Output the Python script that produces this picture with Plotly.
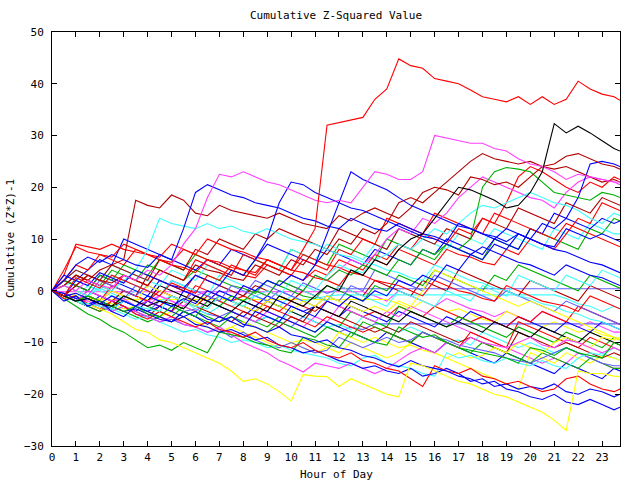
import plotly.graph_objects as go

HOURS = [0, 0.5, 1, 1.5, 2, 2.5, 3, 3.5, 4, 4.5, 5, 5.5,
         6, 6.5, 7, 7.5, 8, 8.5, 9, 9.5, 10, 10.5, 11, 11.5,
         12, 12.5, 13, 13.5, 14, 14.5, 15, 15.5, 16, 16.5, 17, 17.5,
         18, 18.5, 19, 19.5, 20, 20.5, 21, 21.5, 22, 22.5, 23, 23.5,
         23.75]

red_big = [0, -1, 2.5, 1.5, 0.5, 3, 2, 1, 0, -1, 1.5, 0.5,
           -0.5, 3, 2, 5, 4, 3, 6, 5, 4, 8, 12, 32,
           32.5, 33, 33.5, 37, 39, 44.8, 43.5, 43, 41, 40.5, 40, 38.8,
           37.5, 37, 36.5, 37.5, 36, 37.5, 36, 37, 40.5, 39, 38, 37.5,
           36.8]
black_spike = [0, -1, -2, -1.5, -2.5, -3, -1, -2, -3, -2, -2.5, -3.5,
               -1, -2, -3, -4, -2, -3, -4, -1, -2, -3, -1, 1,
               0, 4, 3, 6, 5, 8, 10, 11, 14, 17, 20, 19.5,
               18.5, 17.5, 16, 16.5, 19, 23, 32.3, 30.5, 31.8, 30.5, 29, 27.5,
               27]
magenta_high = [0, 1, 0, 2, 1, 0.5, 3, 2, 4, 3, 5, 9,
                12, 18, 22.5, 22, 23, 22, 21, 20.5, 19.5, 18.5, 17.5, 17,
                17.5, 17, 20, 23, 22.5, 21.5, 21.5, 23, 30, 29.5, 29, 28.5,
                28.5, 27.5, 27, 25.5, 24.5, 24, 23, 21.5, 22.5, 22, 21.5, 21,
                21]
blue_a = [0, 2, 5, 6.5, 5.5, 7, 6, 5, 4.5, 7, 6, 12,
          19, 20.5, 19.5, 18.5, 18, 17, 16.5, 16, 15, 14, 13.5, 12.5,
          12, 14, 13, 12, 11.5, 13, 12, 11, 10.5, 9.5, 13, 12,
          11, 10.5, 9.5, 11, 10, 9, 8.5, 12, 11, 10, 11, 10,
          9.5]
blue_b = [0, -1, -0.5, -1.5, -2.5, -1, -2, -3, -1, -2, -3, -1.5,
          -2.5, 0, -1, -2, 1, 0, 2, 1, 3, 2, 5, 11,
          17, 23, 21.5, 20.5, 19.5, 18, 16.5, 15.5, 14.5, 13.5, 12.5, 12,
          11, 10, 12, 11, 10, 9, 8, 7.5, 6.5, 5.5, 5, 4,
          3.5]
blue_c = [0, 3, 2, 1, 3.5, 2.5, 1.5, 4, 3, 2, 1, 0.5,
          3, 2, 1, 4, 3, 6, 10, 17, 21, 20.5, 19, 18,
          17, 16, 15.5, 14.5, 13.5, 12.5, 11.5, 10.5, 10, 9, 8, 7,
          8.5, 7.5, 6.5, 5.5, 5, 4, 3, 5, 4, 3, 2.5, 1.5,
          1]
darkred_a = [0, 1, 3, 2, 4, 5, 6, 17.5, 16.5, 16, 18.5, 17.5,
             15, 14.5, 16.5, 15.5, 15, 14.5, 14, 15, 14, 13, 12.5, 12,
             14.5, 13.5, 15, 16, 15, 14, 16, 19, 20, 19.5, 18.5, 22,
             21.5, 20.5, 21, 20, 22, 24, 23.5, 24, 23, 22, 21, 21.5,
             21]
darkred_b = [0, -1, 1, 3, 2, 1.5, 3, 2, 1, 4, 3, 2,
             5, 4, 3.5, 2.5, 2, 5, 4, 3, 6, 5, 8, 7,
             10, 9, 12, 11, 13, 17, 18, 17, 19, 21, 23, 25,
             26.5, 25.5, 25, 24.5, 25, 24, 24.5, 26, 26.5, 25.5, 24.5, 24,
             23.5]
green_high = [0, -1, -2, -1, -2, -3, -4, -3, -4.5, -5, -3, -4,
              -5, -2, -3, -1, -2, 0, -1, 2, 1, 0, 3, 2,
              4, 3, 5, 4, 3, 6, 5, 8, 7, 9, 8, 10,
              20, 23, 23.8, 23.5, 23, 21, 19, 18.5, 18, 17.5, 19, 18.5,
              18]
blue_end = [0, -2, -1, -3, -2, -4, -5, -3, -4, -5, -6, -4,
            -5, -6.5, -5, -6, -7, -4, -5, -6, -3, -4, -5, -2,
            -3, -1, -2, 0, -1, 2, 1, 3, 2, 5, 4, 7,
            6, 9, 8, 11, 10, 13, 12, 14, 18, 24.5, 25, 24.5,
            24]
cyan_a = [0, 1, 0, -1, 1, 0, 2, 4, 8, 14, 13, 12.5,
          12, 13, 12, 12.5, 11.5, 11, 12, 11, 10, 9.5, 9, 8,
          7, 6.5, 5.5, 5, 4, 3.5, 2.5, 2, 5, 4, 3, 2,
          1.5, 0.5, 0, -1, -1.5, -2.5, -3, -4, -4.5, -5.5, -6, -7,
          -7.5]
cyan_b = [0, -1, -2, -2.5, -3, -3.5, -2, -3, -3.5, -4, -1, -2,
          -3, -3.5, -1, -2, -3, -1, 0, -1, 2, 1, 0, 3,
          5, 4, 3.5, 6, 7, 9, 8, 10, 12, 11, 13, 15,
          16.5, 16, 17, 18, 19, 18, 17, 16.5, 15.5, 14, 13, 15,
          14.5]
magenta_b = [0, -1, -2, 0, -1, -2, -1.5, -3, -2, -1, -2, -3,
             -1, 0, -1, -2, 1, 0, -1, 2, 1, 0, 3, 2,
             4, 6, 5, 7, 10, 12, 11, 14, 13, 15, 18, 20,
             22, 21, 20, 19, 18, 17.5, 16, 19, 21, 22, 21.5, 21,
             20.5]
red_b = [0, 3, 9, 8.5, 8, 9, 8, 7.5, 7, 6, 5.5, 8,
         7, 6, 5.5, 4.5, 4, 3.5, 6, 5, 4, 3.5, 2.5, 2,
         1, 4, 3, 2, 1.5, 1, 0, -1, 2, 1, 0, -0.5,
         -1.5, -2, 1, 0, -1, -2, -2.5, -3, -4, -1, -2, -3,
         -3.5]
red_c = [0, 2, 5, 4, 7, 6, 5, 8, 7, 6, 5, 4.5,
         3.5, 6, 5, 4, 3, 2.5, 5, 4, 3, 2, 4, 3,
         6, 5, 4, 7, 6, 9, 8, 11, 10, 9, 12, 11,
         14, 13, 17, 22, 24, 23, 21.5, 20, 19, 21, 20, 22,
         21.5]
red_d = [0, 4, 8.5, 7.5, 7, 6.5, 9, 8, 7, 6.5, 9, 8,
         7, 10, 9, 8, 7.5, 6.5, 6, 5, 4, 7, 6, 5,
         4.5, 3.5, 3, 6, 5, 8, 7, 6, 5, 8, 7, 6.5,
         5.5, 5, 8, 7, 10, 9, 8, 11, 14, 13, 17, 16,
         15.5]
yellow_low = [0, -1, -2, -2.5, -3.5, -4.5, -6, -7.5, -8, -9.5, -10, -11,
              -12, -13, -14, -15.5, -17.5, -17, -18, -19.5, -21.3, -16.2, -16.5, -16.6,
              -18.5, -17, -18, -19, -20, -20.5, -14, -14.5, -15.5, -16.5, -17.5, -18,
              -19, -20, -20.5, -21.5, -22.5, -23.5, -25, -27, -15.5, -16, -16, -16.5,
              -16.6]
blue_low1 = [0, -1, -2, -1.5, -2.5, -3.5, -2, -3, -4, -3, -4, -5,
             -4, -5.5, -6, -5, -6.5, -7, -8, -7, -8.5, -9, -10, -9.5,
             -11, -11.5, -12.5, -13, -14, -14.7, -13.5, -14.5, -15, -15.5, -16.5, -17,
             -18, -17.5, -19, -19.5, -20.5, -21, -20, -21.5, -22, -21, -22, -23,
             -22.5]
red_low = [0, -1.5, -1, -2.5, -3.5, -2, -3, -4.5, -5.5, -4, -5, -6,
           -7, -6, -7.5, -8, -9, -8, -9.5, -10.5, -11, -10, -11.5, -12.5,
           -13, -12, -13.5, -14, -15, -15.5, -17, -18.5, -14.5, -15.5, -16, -15,
           -16.5, -17, -18, -17.5, -18.5, -19.5, -19, -17, -16.5, -18, -19, -19.5,
           -19]
blue_low2 = [0, -0.5, -1.5, -2.5, -2, -3, -4, -3.5, -4.5, -5.5, -6, -5,
             -6.5, -7, -8, -7.5, -8.5, -9.5, -9, -10.5, -11, -12, -11.5, -12.5,
             -13.5, -14, -15, -14.5, -15.5, -16, -15, -16.5, -16, -15, -16, -17.5,
             -17, -18.5, -18, -19, -18.5, -19, -18, -19.5, -20, -19, -19.5, -20.5,
             -20]
green_low = [0, -1.5, -3, -4.5, -5.5, -7, -8, -9.5, -11, -10.5, -11.5, -10,
             -11, -12, -8, -8.5, -9, -10, -10.5, -11.5, -12, -9, -9.5, -10.5,
             -11, -8, -9, -10, -10.5, -7, -8, -9, -8.5, -10, -11, -11.5,
             -12, -12.5, -13, -14, -11, -11.5, -12.5, -11, -12, -12.5, -13, -10,
             -10.5]
magenta_low = [0, -0.5, -1.5, -2, -3, -4, -3, -4, -5, -6, -5, -6.5,
               -7, -8, -7, -8.5, -10, -11, -12, -13.5, -14.5, -15.7, -14, -14.5,
               -15, -14, -15, -16, -15, -13.5, -12, -11, -12, -10, -11, -9,
               -10, -10.5, -11, -10, -9, -10.5, -11, -9.5, -10, -11, -12, -11,
               -11.5]
cyan_low = [0, -1, -2, -3, -2.5, -3.5, -4.5, -5.5, -5, -6, -7, -8,
            -7.5, -8.5, -9, -10, -9.5, -10, -11, -10.5, -11.5, -12, -12.5, -13,
            -14, -14.5, -13, -12.5, -14, -14.5, -15, -16, -16.5, -12, -13, -12.5,
            -13.5, -14, -13, -14, -14.5, -13.5, -14.5, -15, -13, -12, -12.5, -11,
            -11.5]
slate_low = [0, -1, -2, -1.5, -3, -4, -3, -4.5, -5, -6, -5.5, -6.5,
             -7, -8, -7.5, -9, -8, -9.5, -10.5, -11, -10, -11, -12, -11.5,
             -9, -10, -11, -10, -9, -10, -9.5, -8, -9, -9.5, -10.5, -11,
             -11.5, -12, -13, -13.5, -14, -13, -12, -11, -12, -13, -14, -14.5,
             -14.5]
yellow_mid = [0, -0.5, -1, -2, -1.5, -2.5, -3.5, -3, -4, -5, -6, -5,
              -6, -7, -8, -7, -6, -7, -8, -9, -10, -9.5, -10, -11,
              -8, -9, -10, -9, -10, -11, -10.5, -11.5, -12, -13, -12, -13,
              -12.5, -11, -12, -10, -11, -12, -10, -9, -10, -11, -9, -9.5,
              -9]
flat_magenta = [0, -0.2, -0.2, -0.2, -0.2, -0.2, -0.2, -0.2, -0.2, -0.2, -0.2, -0.2,
                -0.2, -0.2, -0.2, -0.2, -0.2, -0.2, -0.2, -0.2, -0.2, -0.2, -0.2, -0.2,
                -0.2, -0.2, -0.2, -1, -2, 0, -1, -2, -3, -1.5, -2.5, -3.5,
                -4, -5, -4, -5, -6, -4, -5, -6, -7, -6, -7, -8,
                -8]
flat_yellow = [0, -1, -0.5, -1.5, -1.7, -1.7, -1.7, -1.7, -1.7, -1.7, -1.7, -1.7,
               -1.7, -1.7, -1.7, -1.7, -1.7, -1.7, -1.7, -1.7, -1.7, -1.7, -1.7, -1.7,
               -1.7, -1.7, -1.7, -1.7, -1.7, -2.5, -3.5, -2, -3, -4, -3.5, -4.5,
               -5.5, -6, -4, -5, -6, -7, -6, -7, -8, -7.5, -8.5, -9,
               -9.5]
flat_cyan = [0, 1, 0, -1, 0.5, -0.5, -1.5, 0, -1, -2, -1, -2,
             -3, -1, -2, -3, -2, -1, -2, -3, -1, -2, -1.5, -1,
             -0.8, -0.8, -0.8, -0.8, -0.8, -0.8, -0.8, -0.8, -0.8, -0.8, -0.8, -0.8,
             -0.8, -0.8, -0.8, -0.8, -0.8, -0.8, -0.8, -1.5, -2.5, -3, -4, -3,
             -3.5]
flat_slate1 = [0, -1, -2, 0, -1, -2, -1.5, 1, 0, -1, 2, 1,
               0, -1, 1, 0, -1, 2, 1, 0, -1, 1.5, 0.5, -0.5,
               0.4, 0.4, 0.4, 0.4, 0.4, 0.4, 0.4, 0.4, 0.4, 0.4, 0.4, 0.4,
               0.4, 0.4, 0.4, 0.4, 0.4, 0.4, 0.4, 0.4, 0.4, 0.4, 0.4, 0.4,
               0.4]
flat_slate2 = [0, -0.5, -1.5, -1, -2, -3, -2, -3, -4, -2, -3, -4,
               -3.5, -4.5, -5, -4, -5, -6, -5, -6, -7, -5, -6, -7,
               -8, -7, -7.5, -6.4, -6.4, -6.4, -6.4, -6.4, -6.4, -6.4, -6.4, -6.4,
               -6.4, -6.4, -6.4, -6.4, -6.4, -6.4, -6.4, -6.4, -6.4, -6.4, -6.4, -6.4,
               -6.4]
m1_green = [0, 1, 3, 2, 1, 4, 3, 2, 5, 4, 3, 2,
            4, 3, 2, 1, 0.5, -0.5, 2, 1, 0, -1, -1.5, 1,
            0, -1, -2, 1, 0, 3, 2, 1, 4, 3, 2, 1,
            0, 3, 2, 5, 4, 3, 2, 1, 0, 3, 2, 1,
            0.5]
m2_cyan = [0, -1, -1.5, 1, 0, -1, -2, -3, -1, -2, -3, -2,
           -3.5, -4.5, -3, -4, -5, -6, -5, -6, -4, -5, -6, -7,
           -6.5, -7.5, -5, -6, -7, -8, -7, -8, -9, -10, -9.5, -10.5,
           -8, -9, -10, -11, -10, -11, -12, -11, -12, -13, -12, -13,
           -13.5]
m3_blue = [0, 2, 1, 0, 3, 2, 1, 0, -1, 2, 1, 0,
           -1, -2, 0, -1, -2, -3, -1, -2, -3, -4, -3, -4,
           -5, -3, -4, -5, -6, -4, -5, -6, -7, -5, -6, -4,
           -5, -6, -7, -5, -6, -7, -8, -6, -7, -8, -6, -7,
           -7.5]
m4_red = [0, -1, -2, -1, -2, 1, 0, -1, -2, -3, -1, -2,
          1, 0, -1, -2, -1, -2, -3, -4, -2, -3, -4, -2,
          -3, -4, -5, -4, -5, -3, -4, -5, -3, -4, -5, -6,
          -5, -6, -7, -5, -6, -4, -5, -6, -3, -4, -5, -6,
          -6.5]
m5_darkred = [0, -1, 1, 0, -1, -2, 0, -1, 3, 2, 1, 0,
              3, 2, 1, 0, -1, 1, 0, -1, -2, 0, -1, -2,
              1, 0, -1, 2, 1, 0, -1, 2, 1, 0, 4, 3,
              2, 1, 0, -1, 2, 1, 0, -1, -2, 1, 0, -1,
              -1.5]
m6_green = [0, -1, -2, -3, -2.5, -3.5, -1, -2, -3, -4, -5, -3,
            -4, -5, -6, -4, -5, -6, -7, -5, -6, -7, -8, -6,
            -7, -4, -5, -6, -7, -3, -4, -5, -6, -7, -5, -6,
            -7, -8, -9, -7, -8, -9, -10, -8, -9, -10, -11, -9,
            -9.5]
m7_magenta = [0, 1, 0, -1, -2, 0, -1, -2, -3, -1, -2, -3,
              -4, -2, -3, -4, -5, -6, -4, -5, -6, -7, -5, -6,
              -3, -4, -5, -6, -4, -5, -3, -4, -5, -6, -7, -8,
              -9, -10, -11, -12, -13, -14, -13, -14, -12, -13, -14, -15,
              -15]
m8_yellow = [0, -1, -2, -1, -2, -3, -4, -3, -4, -5, -4, -5,
             -6, -7, -8, -7, -8, -9, -10, -11, -10, -11, -12, -11,
             -12, -10, -11, -12, -13, -12, -10, -11, -12, -13, -14, -15,
             -16, -17, -18, -19, -12, -13, -14, -12, -13, -14, -12.5, -13,
             -13.5]
m9_cyan = [0, 1, 2, 1, 0, 3, 2, 1, 0, -1, 2, 1,
           0, -1, 3, 2, 1, 0, -1, 2, 1, 0, -1, -2,
           1, 0, -1, -2, -3, 0, -1, -2, -3, 0, -1, -2,
           1, 0, -1, 3, 2, 1, 0, 3, 2, 1, 4, 3,
           2.5]
m10_blue = [0, -1, -2, -3, -1, -2, -3, -4, -2, -3, -4, 0,
            -1, -2, -3, -4, -5, -3, -4, -5, -6, -7, -8, -6,
            -7, -8, -9, -10, -8, -9, -10, -11, -12, -10, -11, -12,
            -13, -14, -12, -13, -14, -15, -16, -14, -15, -16, -17, -15,
            -15.5]
m11_red = [0, 2, 1, 3, 2, 1, 0, -1, -2, 0, -1, -2,
           -3, -1, -2, -3, -4, -5, -3, -4, -5, -6, -7, -5,
           -6, -7, -8, -7, -8, -9, -10, -8, -9, -10, -11, -8,
           -9, -10, -11, -6, -7, -8, -9, -10, -11, -9, -10, -11,
           -11.5]
m12_darkred = [0, -1, -2, -3, -4, -2, -3, -4, -5, -3, -4, -2,
               -3, -4, -5, -6, -4, -5, -6, -7, -5, -6, -3, -4,
               -5, -6, -7, -8, -7, -8, -6, -7, -8, -9, -10, -9,
               -10, -11, -12, -8, -9, -10, -11, -10, -11, -12, -13, -12,
               -12.5]
m13_black = [0, -1, -2, -1, -2, -3, -2, -3, -2, 1, 0, -1,
             -2, -3, -1, -2, -3, -4, -2, -3, -4, -5, -3, -4,
             -5, -2, -3, -4, -5, -6, -4, -5, -6, -7, -6, -7,
             -8, -6, -7, -8, -9, -7, -8, -9, -10, -8, -9, -10,
             -10.5]
m14_green = [0, 2, 1, 0, 3, 2, 5, 4, 3, 6, 5, 4,
             7, 6, 5, 4, 3, 6, 5, 4, 8, 7, 6, 5,
             9, 8, 7, 6, 10, 9, 8, 7, 6, 9, 8, 7,
             6, 10, 9, 8, 12, 11, 10, 9, 8, 12, 11, 14,
             13.5]
m15_slate = [0, 1, 0, -1, 2, 1, 0, -1, 1, 0, -1, -2,
             0, -1, -2, 1, 0, -1, -2, 0, -1, -2, -3, -1,
             -2, 1, 0, 4, 3, 2, 1, 0, 3, 2, 1, 0,
             -1, -2, 0, -1, -2, -3, -4, -2, -3, -4, -5, -6,
             -6.5]
m16_yellow = [0, 1, 0, -1, -2, 0, -1, -2, 1, 0, -1, -2,
              -3, 0, -1, -2, -3, -4, -2, -3, -4, -2, -3, -1,
              -2, -3, -4, -3, -4, -2, -3, 0, 4, 3, 2, 1,
              0, -1, -2, -3, -2, -3, -4, -5, -6, -7, -8, -9,
              -9.5]
m17_cyan = [0, 2, 4, 3, 2, 5, 4, 3, 2, 1, 4, 3,
            2, 5, 4, 3, 7, 6, 5, 4, 8, 7, 6, 9,
            8, 7, 6, 9, 8, 12, 11, 10, 9, 8, 11, 10,
            9, 12, 11, 10, 9, 8, 12, 11, 10, 13, 12, 11,
            11]
m18_blue = [0, -1, 2, 4, 6, 5, 10, 9, 8, 7, 6, 5,
            4, 6, 5, 8, 7, 6, 9, 8, 7, 6, 5, 8,
            7, 6, 5, 8, 7, 6, 5, 8, 7, 10, 9, 8,
            7, 10, 9, 8, 12, 11, 15, 14, 13, 12, 14, 13,
            13.5]
m19_green = [0, -1, -2, -3, -4, -3, -4, -5, -6, -5, -6, -4,
             -5, -6, -7, -5, -6, -7, -8, -6, -7, -8, -9, -7,
             -8, -9, -6, -7, -8, -9, -10, -8, -9, -10, -11, -12,
             -10, -11, -12, -13, -14, -12, -13, -14, -15, -13, -14, -15,
             -15]
darkred_c = [0, 2, 4, 3, 2, 5, 4, 3, 2, 6, 5, 4,
             8, 7, 10, 9, 8, 11, 10, 12, 11, 10, 9, 8,
             12, 11, 10, 9, 8, 12, 11, 10, 9, 12, 11, 10,
             14, 13, 12, 16, 15, 14, 13, 17, 16, 15, 18, 17,
             16.5]
red_e = [0, 1, 3, 2, 1, 0, 3, 2, 1, 4, 3, 2,
         6, 5, 4, 3, 7, 6, 5, 4, 3, 6, 5, 4,
         8, 7, 10, 9, 14, 13, 12, 11, 15, 14, 13, 12,
         11, 15, 14, 13, 12, 11, 10, 13, 12, 11, 10, 9,
         8.5]

RED = "#ff0000"
DRED = "#b00000"
GREEN = "#00b000"
BLUE = "#0000ff"
CYAN = "#40ffff"
MAG = "#ff40ff"
YEL = "#ffff00"
SLATE = "#6060ff"
BLACK = "#000000"

SERIES = [
    (flat_magenta, MAG), (flat_yellow, YEL), (flat_cyan, CYAN),
    (flat_slate1, SLATE), (flat_slate2, SLATE),
    (m1_green, GREEN), (m2_cyan, CYAN), (m3_blue, BLUE), (m4_red, RED),
    (m5_darkred, DRED), (m6_green, GREEN), (m7_magenta, MAG), (m8_yellow, YEL),
    (m9_cyan, CYAN), (m10_blue, BLUE), (m11_red, RED), (m12_darkred, DRED),
    (m13_black, BLACK), (m14_green, GREEN), (m15_slate, SLATE),
    (m16_yellow, YEL), (m17_cyan, CYAN), (m18_blue, BLUE), (m19_green, GREEN),
    (yellow_mid, YEL), (slate_low, SLATE), (cyan_low, CYAN),
    (magenta_low, MAG), (green_low, GREEN), (blue_low2, BLUE),
    (red_low, RED), (blue_low1, BLUE), (yellow_low, YEL),
    (darkred_c, DRED), (red_e, RED), (red_d, RED), (red_c, RED), (red_b, RED),
    (magenta_b, MAG), (cyan_b, CYAN), (cyan_a, CYAN), (blue_end, BLUE),
    (green_high, GREEN), (darkred_b, DRED), (darkred_a, DRED),
    (blue_c, BLUE), (blue_b, BLUE), (blue_a, BLUE), (magenta_high, MAG),
    (black_spike, BLACK), (red_big, RED),
]

for vals, _c in SERIES:
    assert len(vals) == len(HOURS), len(vals)

FONT = "DejaVu Sans Mono"
FSIZE = 11

fig = go.Figure()
for vals, col in SERIES:
    fig.add_trace(go.Scatter(x=HOURS, y=vals, mode="lines",
                             line=dict(color=col, width=1.1),
                             hoverinfo="skip", showlegend=False))

axis_common = dict(showline=True, linecolor="black", linewidth=1,
                   mirror="ticks", ticks="inside", ticklen=5,
                   tickcolor="black", showgrid=False, zeroline=False,
                   tickfont=dict(family=FONT, size=FSIZE, color="black"))

fig.update_layout(
    width=640, height=480,
    margin=dict(l=52, r=20, t=32, b=34),
    plot_bgcolor="white", paper_bgcolor="white",
    showlegend=False,
    title=dict(text="Cumulative Z-Squared Value", x=0.5, xref="paper",
               xanchor="center", y=1 - 15 / 480, yref="container",
               yanchor="middle",
               font=dict(family=FONT, size=FSIZE, color="black")),
    xaxis=dict(range=[0, 23.75], tick0=0, dtick=1, ticklabelstandoff=1,
               **axis_common),
    yaxis=dict(range=[-30, 50], tick0=-30, dtick=10, ticklabelstandoff=5,
               **axis_common),
    annotations=[
        dict(text="Hour of Day", xref="paper", yref="paper", x=0.5,
             y=(446 - 474) / 414, xanchor="center", yanchor="middle",
             showarrow=False, font=dict(family=FONT, size=FSIZE, color="black")),
        dict(text="Cumulative (Z*Z)-1", xref="paper", yref="paper",
             x=(10 - 52) / 568, y=0.5, xanchor="center", yanchor="middle",
             textangle=-90, showarrow=False,
             font=dict(family=FONT, size=FSIZE, color="black")),
    ],
)

fig.write_html("out.html")
